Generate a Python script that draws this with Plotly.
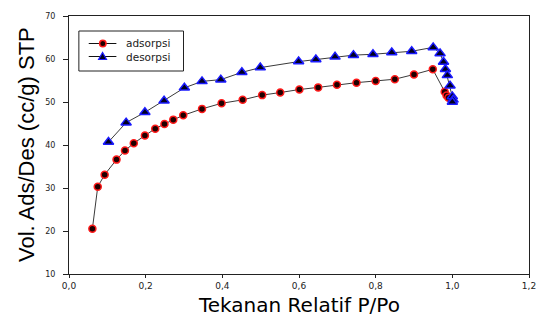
import plotly.graph_objects as go

# Adsorption branch
ads_p = [0.061, 0.075, 0.093, 0.124, 0.146, 0.169, 0.198, 0.225, 0.249, 0.272,
         0.298, 0.347, 0.398, 0.453, 0.504, 0.551, 0.601, 0.650, 0.699, 0.750,
         0.800, 0.850, 0.900, 0.949, 0.980, 0.985, 0.990]
ads_v = [20.5, 30.3, 33.1, 36.6, 38.7, 40.4, 42.2, 43.8, 44.9, 45.9,
         46.9, 48.4, 49.7, 50.5, 51.6, 52.2, 52.9, 53.4, 54.0, 54.5,
         54.9, 55.3, 56.4, 57.6, 52.4, 51.5, 51.0]

# Desorption branch
des_p = [0.103, 0.149, 0.198, 0.248, 0.301, 0.347, 0.396, 0.451, 0.499, 0.599,
         0.644, 0.694, 0.742, 0.793, 0.842, 0.894, 0.950, 0.968, 0.977, 0.982,
         0.987, 0.994, 1.000, 1.002, 1.000]
des_v = [40.7, 45.2, 47.6, 50.3, 53.3, 54.8, 55.2, 56.9, 58.0, 59.4,
         59.9, 60.5, 60.9, 61.1, 61.5, 61.8, 62.7, 61.3, 59.3, 57.6,
         56.2, 53.8, 51.3, 50.5, 50.0]

series_names = ["adsorpsi", "desorpsi"]
x_ticks = [0.0, 0.2, 0.4, 0.6, 0.8, 1.0, 1.2]
x_labels = ["0,0", "0,2", "0,4", "0,6", "0,8", "1,0", "1,2"]
y_ticks = [10, 20, 30, 40, 50, 60, 70]

W, H = 548, 316
ML, MR, MT, MB = 69, 13, 16, 42
PW, PH = W - ML - MR, H - MT - MB


def px(x):
    return (x - ML) / PW


def py(y):
    return 1 - (y - MT) / PH


LINE_C = "#3a3a3a"
CIRC_FILL, CIRC_EDGE = "#200000", "#ff1a1a"
TRI_FILL, TRI_EDGE = "#000020", "#1a1aff"

fig = go.Figure()
fig.add_trace(go.Scatter(
    x=ads_p, y=ads_v, mode="lines+markers", name=series_names[0],
    line=dict(color=LINE_C, width=1),
    marker=dict(symbol="circle", size=7, color=CIRC_FILL,
                line=dict(color=CIRC_EDGE, width=1.5)),
))
fig.add_trace(go.Scatter(
    x=des_p, y=des_v, mode="lines+markers", name=series_names[1],
    line=dict(color=LINE_C, width=1),
    marker=dict(symbol="triangle-up", size=9, color=TRI_FILL,
                line=dict(color=TRI_EDGE, width=1.5)),
))

axis_common = dict(
    showline=True, linecolor="#222222", linewidth=1, mirror=True,
    showgrid=False, zeroline=False, ticks="outside",
    tickcolor="#222222", tickfont=dict(family="DejaVu Sans", size=8, color="#222222"),
)
fig.update_xaxes(range=[0, 1.2], tickvals=x_ticks, ticktext=x_labels, ticklen=3, **axis_common)
fig.update_yaxes(range=[10, 70], tickvals=y_ticks, ticklen=5, **axis_common)
fig.update_xaxes(tickfont=dict(size=9))
fig.update_yaxes(ticklabelstandoff=6)

# Legend box drawn manually (compact rows like the reference)
shapes = [
    dict(type="rect", xref="paper", yref="paper", x0=px(79), x1=px(185),
         y0=py(71), y1=py(31), line=dict(color="#222222", width=1),
         fillcolor="white", layer="above"),
]
rows = [43.5, 56.5]
for ry in rows:
    shapes.append(dict(type="line", xref="paper", yref="paper",
                       x0=px(89), x1=px(117), y0=py(ry), y1=py(ry),
                       line=dict(color="#111111", width=1), layer="above"))
# circle marker for row 1
shapes.append(dict(type="circle", xref="paper", yref="paper",
                   x0=px(100), x1=px(106.5), y0=py(rows[0] + 3.25), y1=py(rows[0] - 3.25),
                   fillcolor=CIRC_FILL, line=dict(color=CIRC_EDGE, width=1.5), layer="above"))
# triangle marker for row 2
tx, ty = 103, rows[1]
tri = "M {:.5f} {:.5f} L {:.5f} {:.5f} L {:.5f} {:.5f} Z".format(
    px(tx - 4), py(ty + 3), px(tx + 4), py(ty + 3), px(tx), py(ty - 4))
shapes.append(dict(type="path", xref="paper", yref="paper", path=tri,
                   fillcolor=TRI_FILL, line=dict(color=TRI_EDGE, width=1.2), layer="above"))

annotations = [
    dict(text="Tekanan Relatif P/Po", x=0.5, y=0, xref="paper", yref="paper",
         xanchor="center", yanchor="middle", yshift=-31, showarrow=False,
         font=dict(family="DejaVu Sans", size=20, color="black")),
    dict(text="Vol. Ads/Des (cc/g) STP", x=0, y=0.5, xref="paper", yref="paper",
         xanchor="center", yanchor="middle", xshift=-43, textangle=-90,
         showarrow=False,
         font=dict(family="Liberation Sans", size=22, color="black")),
]
for name, ry in zip(series_names, rows):
    annotations.append(dict(text=name, x=px(125), y=py(ry), xref="paper", yref="paper",
                            xanchor="left", yanchor="middle", showarrow=False,
                            font=dict(family="DejaVu Sans", size=10.5, color="#222222")))

fig.update_layout(
    width=W, height=H,
    margin=dict(l=ML, r=MR, t=MT, b=MB),
    paper_bgcolor="white", plot_bgcolor="white",
    font=dict(family="Liberation Sans", color="black"),
    showlegend=False,
    shapes=shapes,
    annotations=annotations,
)

fig.write_html("out.html", config={"displayModeBar": False},
               post_script="document.body.style.margin='0';")
